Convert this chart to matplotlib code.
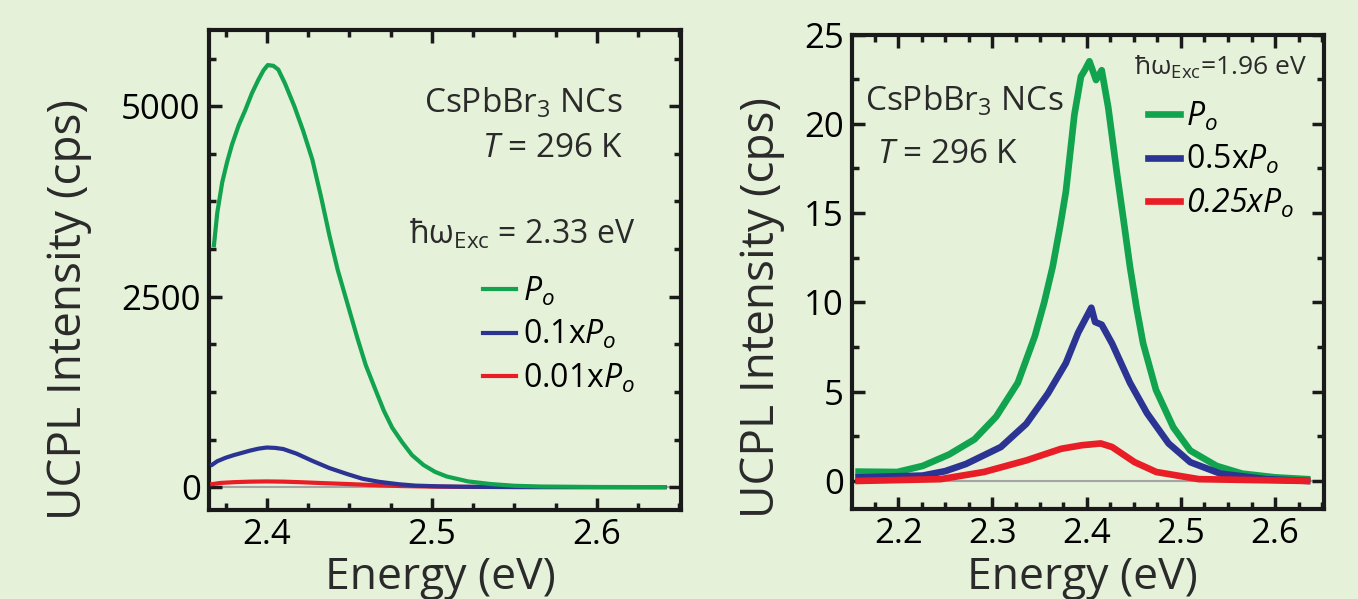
import numpy as np
import matplotlib.pyplot as plt
from matplotlib.ticker import MultipleLocator

plt.rcParams['font.family'] = ['Open Sans', 'DejaVu Sans']
plt.rcParams['mathtext.fontset'] = 'custom'
plt.rcParams['mathtext.rm'] = 'Open Sans'
plt.rcParams['mathtext.it'] = 'Open Sans:italic'

bg = '#e5f1d9'
green = '#12a34f'
blue = '#2b3393'
red = '#e91d26'

# left panel, excitation 2.33 eV
e_green_l = [2.368, 2.370, 2.373, 2.376, 2.379, 2.383, 2.387, 2.391, 2.395, 2.398, 2.4006,
             2.404, 2.407, 2.411, 2.4167, 2.422, 2.4276, 2.433, 2.438, 2.443, 2.449, 2.455,
             2.460, 2.466, 2.471, 2.476, 2.482, 2.488, 2.495, 2.502, 2.509, 2.522, 2.536,
             2.55, 2.566, 2.60, 2.641]
i_green_l = [3175, 3600, 4000, 4270, 4500, 4750, 4950, 5170, 5350, 5470, 5540,
             5530, 5480, 5300, 5000, 4680, 4300, 3800, 3300, 2850, 2400, 1950,
             1600, 1270, 1000, 780, 590, 420, 290, 200, 140, 75, 40,
             18, 8, 2, 0]
e_blue_l = [2.367, 2.370, 2.375, 2.38, 2.385, 2.39, 2.395, 2.40, 2.405, 2.41, 2.418, 2.4276,
            2.438, 2.449, 2.458, 2.468, 2.48, 2.49, 2.505, 2.52, 2.55, 2.60, 2.641]
i_blue_l = [295, 340, 385, 420, 450, 480, 505, 520, 515, 500, 440, 345,
            250, 170, 110, 70, 38, 20, 10, 5, 1, 0, 0]
e_red_l = [2.367, 2.372, 2.38, 2.39, 2.40, 2.41, 2.42, 2.435, 2.45, 2.465, 2.48, 2.50, 2.52, 2.56, 2.641]
i_red_l = [40, 55, 65, 72, 75, 72, 65, 52, 40, 26, 15, 7, 3, 1, 0]
labels_l = [r'$P_{o}$', r'0.1x$P_{o}$', r'0.01x$P_{o}$']

# right panel, excitation 1.96 eV
e_green_r = [2.158, 2.199, 2.226, 2.254, 2.281, 2.304, 2.327, 2.345, 2.355, 2.364, 2.372, 2.378,
             2.387, 2.394, 2.398, 2.403, 2.407, 2.410, 2.416, 2.423, 2.432, 2.440, 2.446, 2.453,
             2.460, 2.4736, 2.492, 2.510, 2.538, 2.565, 2.600, 2.634]
i_green_r = [0.52, 0.5, 0.84, 1.48, 2.33, 3.6, 5.5, 8.1, 10.0, 12.0, 14.3, 16.2,
             20.5, 22.65, 23.0, 23.5, 22.9, 22.45, 23.0, 20.9, 17.3, 14.3, 12.0, 9.7,
             7.7, 5.1, 3.0, 1.7, 0.84, 0.41, 0.2, 0.1]
e_blue_r = [2.158, 2.226, 2.250, 2.272, 2.309, 2.336, 2.359, 2.378, 2.391, 2.398, 2.405, 2.409,
            2.416, 2.427, 2.446, 2.464, 2.487, 2.510, 2.542, 2.590, 2.634]
i_blue_r = [0.2, 0.3, 0.55, 0.95, 1.9, 3.2, 4.9, 6.6, 8.3, 9.0, 9.7, 8.9,
            8.75, 7.7, 5.5, 3.8, 2.1, 1.05, 0.41, 0.1, 0.0]
e_red_r = [2.158, 2.245, 2.291, 2.336, 2.373, 2.395, 2.405, 2.415, 2.427, 2.451, 2.474, 2.519, 2.634]
i_red_r = [0.0, 0.1, 0.5, 1.15, 1.8, 2.0, 2.05, 2.1, 1.9, 1.05, 0.5, 0.1, 0.0]
labels_r = [r'$P_{o}$', r'0.5x$P_{o}$', r'0.25x$P_{o}$']

fig = plt.figure(figsize=(13.58, 5.99), dpi=100)
fig.patch.set_facecolor(bg)
ax1 = fig.add_axes([0.1539, 0.1486, 0.3476, 0.8013])
ax2 = fig.add_axes([0.6274, 0.1509, 0.3476, 0.7915])

for ax in (ax1, ax2):
    ax.set_facecolor(bg)
    ax.axhline(0, color='#a5a5a5', lw=1.5, zorder=1)
    for s in ax.spines.values():
        s.set_linewidth(3)
        s.set_color('#1a1a1a')
    ax.tick_params(which='both', direction='in', top=True, right=True,
                   width=2.5, color='#1a1a1a', labelsize=25, pad=6)
    ax.tick_params(which='major', length=9)
    ax.tick_params(which='minor', length=5)
    ax.xaxis.set_major_locator(MultipleLocator(0.1))
    ax.xaxis.set_minor_locator(MultipleLocator(0.025))

# left
ax1.plot(e_red_l, i_red_l, color=red, lw=3, label=labels_l[2], zorder=3)
ax1.plot(e_blue_l, i_blue_l, color=blue, lw=3, label=labels_l[1], zorder=4)
ax1.plot(e_green_l, i_green_l, color=green, lw=3, label=labels_l[0], zorder=5)
ax1.set_xlim(2.365, 2.651)
ax1.set_ylim(-300, 6000)
ax1.yaxis.set_major_locator(MultipleLocator(2500))
ax1.yaxis.set_minor_locator(MultipleLocator(625))
h, l = ax1.get_legend_handles_labels()
ax1.legend(h[::-1], l[::-1], loc='upper left', bbox_to_anchor=(0.58, 0.49),
           frameon=False, fontsize=23, handlelength=1.05, handletextpad=0.2,
           labelspacing=0.32, borderpad=0, borderaxespad=0)
ax1.text(0.877, 0.848, r'CsPbBr$_3$ NCs', transform=ax1.transAxes, ha='right', va='center', fontsize=24, color='#2a2a2a')
ax1.text(0.877, 0.754, r'$T$ = 296 K', transform=ax1.transAxes, ha='right', va='center', fontsize=24, color='#2a2a2a')
ax1.text(0.9025, 0.575, r'ħω$_{\mathrm{Exc}}$ = 2.33 eV', transform=ax1.transAxes, ha='right', va='center', fontsize=23, color='#2a2a2a')

# right
ax2.plot(e_green_r, i_green_r, color=green, lw=4.8, label=labels_r[0], zorder=3)
ax2.plot(e_blue_r, i_blue_r, color=blue, lw=4.8, label=labels_r[1], zorder=4)
ax2.plot(e_red_r, i_red_r, color=red, lw=4.8, label=labels_r[2], zorder=5)
ax2.set_xlim(2.151, 2.652)
ax2.set_ylim(-1.55, 25)
ax2.yaxis.set_major_locator(MultipleLocator(5))
ax2.yaxis.set_minor_locator(MultipleLocator(2.5))
leg = ax2.legend(loc='upper left', bbox_to_anchor=(0.627, 0.862),
                 frameon=False, fontsize=23, handlelength=1.0, handletextpad=0.2,
                 labelspacing=0.32, borderpad=0, borderaxespad=0)
leg.get_texts()[2].set_style('italic')
ax2.text(0.0275, 0.858, r'CsPbBr$_3$ NCs', transform=ax2.transAxes, ha='left', va='center', fontsize=24, color='#2a2a2a')
ax2.text(0.053, 0.746, r'$T$ = 296 K', transform=ax2.transAxes, ha='left', va='center', fontsize=24, color='#2a2a2a')
ax2.text(0.964, 0.93, r'ħω$_{\mathrm{Exc}}$=1.96 eV', transform=ax2.transAxes, ha='right', va='center', fontsize=19, color='#2a2a2a')

# axis labels
fig.text(0.324, 0.036, 'Energy (eV)', ha='center', va='center', fontsize=32, color='#2a2a2a')
fig.text(0.797, 0.036, 'Energy (eV)', ha='center', va='center', fontsize=32, color='#2a2a2a')
fig.text(0.051, 0.484, 'UCPL Intensity (cps)', ha='center', va='center', rotation=90, fontsize=33, color='#2a2a2a')
fig.text(0.561, 0.487, 'UCPL Intensity (cps)', ha='center', va='center', rotation=90, fontsize=33, color='#2a2a2a')

fig.savefig('out.png', dpi=100, facecolor=bg)
